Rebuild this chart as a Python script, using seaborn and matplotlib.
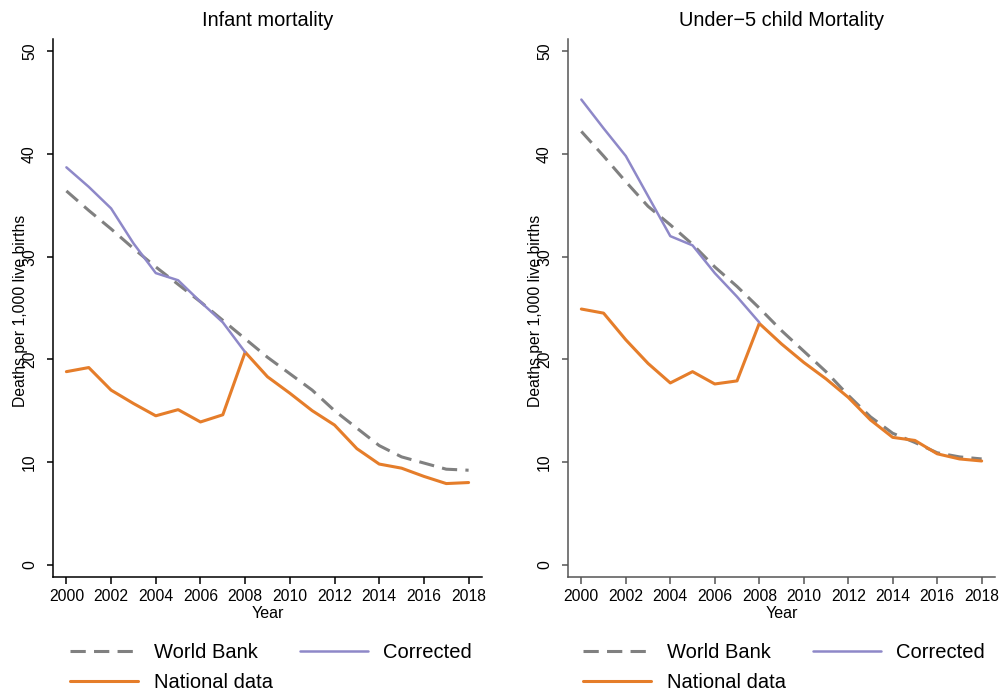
import numpy as np
import pandas as pd
import matplotlib
matplotlib.use("Agg")
import matplotlib.pyplot as plt
import seaborn as sns

# values
years = list(range(2000, 2019))
years_corr = list(range(2000, 2009))

infant_wb = [36.4, 34.5, 32.7, 30.8, 29.0, 27.3, 25.6, 23.8, 22.0, 20.2,
             18.6, 17.0, 15.0, 13.3, 11.6, 10.5, 9.9, 9.3, 9.2]
infant_nat = [18.8, 19.2, 17.0, 15.7, 14.5, 15.1, 13.9, 14.6, 20.7, 18.3,
              16.7, 15.0, 13.6, 11.3, 9.8, 9.4, 8.6, 7.9, 8.0]
infant_corr = [38.7, 36.8, 34.7, 31.3, 28.4, 27.7, 25.6, 23.6, 20.7]

u5_wb = [42.2, 39.8, 37.3, 34.9, 33.1, 31.2, 29.0, 27.1, 25.0, 22.8,
         20.8, 18.8, 16.5, 14.4, 12.8, 11.9, 10.9, 10.5, 10.3]
u5_nat = [24.9, 24.5, 21.9, 19.6, 17.7, 18.8, 17.6, 17.9, 23.5, 21.5,
          19.7, 18.1, 16.3, 14.1, 12.4, 12.1, 10.8, 10.3, 10.1]
u5_corr = [45.3, 42.5, 39.8, 35.9, 32.0, 31.1, 28.4, 26.1, 23.6]

panel_titles = ["Infant mortality", "Under\u22125 child Mortality"]
x_ticks = list(range(2000, 2019, 2))
y_ticks = [0, 10, 20, 30, 40, 50]

sns.set_style("ticks")
plt.rcParams["font.family"] = ["Liberation Sans", "DejaVu Sans"]
plt.rcParams["text.color"] = "black"
plt.rcParams["axes.labelcolor"] = "black"
plt.rcParams["xtick.labelcolor"] = "black"
plt.rcParams["ytick.labelcolor"] = "black"

GRAY = "#808080"
PURPLE = "#8E88C8"
ORANGE = "#E57D2A"

fig = plt.figure(figsize=(10.01, 6.92), dpi=100)
W, H = 1001, 692
ax1 = fig.add_axes([53 / W, 1 - 577 / H, 429 / W, 538 / H])
ax2 = fig.add_axes([568 / W, 1 - 577 / H, 427 / W, 538 / H])

panels = [
    (ax1, infant_wb, infant_nat, infant_corr, "black"),
    (ax2, u5_wb, u5_nat, u5_corr, "#555555"),
]

for i, (ax, wb, nat, corr, spine_col) in enumerate(panels):
    df_wb = pd.DataFrame({"Year": years, "Rate": wb})
    df_nat = pd.DataFrame({"Year": years, "Rate": nat})
    df_corr = pd.DataFrame({"Year": years_corr, "Rate": corr})

    sns.lineplot(data=df_wb, x="Year", y="Rate", ax=ax, color=GRAY,
                 linewidth=2.2, label="World Bank")
    ax.lines[-1].set_dashes((5, 2.7))
    sns.lineplot(data=df_nat, x="Year", y="Rate", ax=ax, color=ORANGE,
                 linewidth=2.2, label="National data")
    sns.lineplot(data=df_corr, x="Year", y="Rate", ax=ax, color=PURPLE,
                 linewidth=1.8, label="Corrected")

    ax.set_xlim(1999.4, 2018.6)
    ax.set_ylim(-1.2, 51.2)
    ax.set_xticks(x_ticks)
    ax.set_yticks(y_ticks)
    ax.tick_params(axis="y", labelrotation=90, length=4.5, width=1.1,
                   pad=7, labelsize=11.3, color=spine_col)
    ax.tick_params(axis="x", length=5, width=1.1, pad=3.5,
                   labelsize=11.3, color=spine_col)
    for lab in ax.get_yticklabels():
        lab.set_va("center")
    sns.despine(ax=ax)
    for s in ["left", "bottom"]:
        ax.spines[s].set_color(spine_col)
        ax.spines[s].set_linewidth(1.1)

    ax.set_title(panel_titles[i], fontsize=14.4, pad=9)
    ax.set_xlabel("Year", fontsize=11.6, labelpad=1.5)
    ax.set_ylabel("Deaths per 1,000 live births", fontsize=11.3)
    ax.yaxis.set_label_coords(-0.059, 0.494)

    handles, labels = ax.get_legend_handles_labels()
    ax.get_legend().remove()
    x0 = 70 if i == 0 else 583
    fig.legend(handles, labels, loc="upper left", ncol=2,
               bbox_to_anchor=(x0 / W, 1 - 643 / H), frameon=False,
               fontsize=14.5, handlelength=3.4, handletextpad=0.75,
               columnspacing=1.35, labelspacing=0.55, borderpad=0,
               borderaxespad=0)

fig.savefig("out.png", dpi=100)
